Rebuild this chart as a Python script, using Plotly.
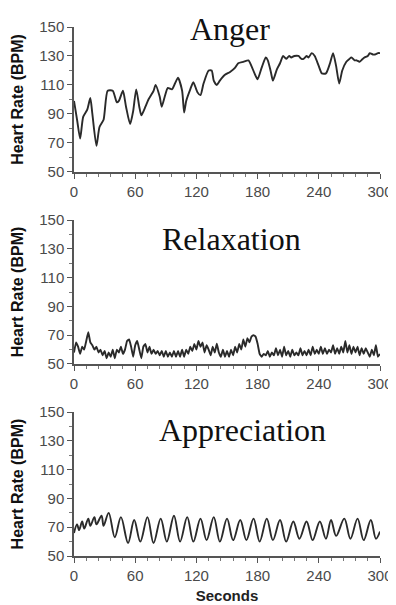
import plotly.graph_objects as go

# ---------------- data ----------------
anger_t = [0,3,6,9,13,16,18,22,25,29,33,38,42,44,48,51,55,58,61,64,66,70,73,78,80,84,86,89,92,96,
           99,102,106,108,110,114,117,121,124,127,132,135,137,140,143,148,153,158,161,166,171,174,177,180,184,188,190,193,195,199,
           202,205,208,211,213,216,220,223,225,228,230,233,236,240,243,247,251,254,257,260,263,267,270,272,275,277,280,283,285,288,
           290,293,295,298,300]
anger_v = [99,86,73,88,93,101,90,68,81,86,106,106,98,99,106,95,83,92,107,95,89,95,100,106,110,102,95,102,108,107,
           111,115,106,91,99,107,112,105,103,111,120,120,113,110,113,117,119,122,125,126,127,123,118,114,122,129,127,119,113,121,
           125,130,128,130,129,130,130,128,128,130,129,132,130,123,118,118,125,132,123,111,120,126,128,129,127,127,126,128,129,130,
           132,131,131,132,132]

relax_t = list(range(0, 301, 2))
relax_v = [58,65,62,57,62,60,66,72,65,63,60,62,58,60,56,59,54,58,55,60,
           54,60,58,62,57,60,66,67,62,55,63,66,60,54,62,64,58,62,57,60,
           57,59,56,59,55,59,55,58,55,59,55,59,55,60,55,60,57,62,59,64,
           60,66,62,65,58,63,60,56,62,58,64,58,55,60,55,59,55,60,56,62,
           58,64,60,67,62,68,65,69,70,69,64,57,55,57,56,59,55,58,56,61,
           56,60,55,62,56,59,55,60,56,58,56,61,56,59,56,60,56,62,57,60,
           57,62,57,61,57,60,58,63,57,61,57,62,58,66,58,63,57,62,58,62,
           56,61,57,61,58,55,60,56,63,55,57]

appr_t = [0,3,5,8,10,14,16,20,22,27,29,34,40,46,53,59,65,72,78,85,91,98,104,111,117,124,130,137,143,150,
          156,163,169,176,182,189,195,202,208,215,221,228,234,241,247,252,257,265,271,278,284,291,296,300]
appr_v = [66,72,68,74,69,76,71,77,72,78,71,80,63,77,59,75,60,77,59,76,60,78,60,77,60,76,61,77,60,76,
          61,75,61,76,60,76,61,75,60,74,62,74,61,74,62,75,64,76,62,76,61,75,62,67]

titles = ["Anger", "Relaxation", "Appreciation"]
y_ticks = [50, 70, 90, 110, 130, 150]
x_ticks = [0, 60, 120, 180, 240, 300]
y_label = "Heart Rate (BPM)"
x_label = "Seconds"

series = [(anger_t, anger_v), (relax_t, relax_v), (appr_t, appr_v)]

# ---------------- figure ----------------
fig = go.Figure()
domains = [[0.726, 1.0], [0.363, 0.635], [0.0, 0.272]]
title_pos = [(0.51, 0.985), (0.516, 0.87), (0.552, 0.875)]
smooth = [0.6, 0.3, 1.0]

axis_color = "#555555"
tick_font = dict(family="Liberation Sans, Arial, sans-serif", size=15, color="#4a4a4a")

for i, (t, v) in enumerate(series):
    n = "" if i == 0 else str(i + 1)
    fig.add_trace(go.Scatter(
        x=t, y=v, mode="lines", xaxis="x" + n, yaxis="y" + n,
        line=dict(color="#2a2a2a", width=1.9, shape="spline", smoothing=smooth[i]),
        showlegend=False, hoverinfo="skip"))
    xa = dict(domain=[0, 1], anchor="y" + n, range=[0, 300], tickvals=x_ticks, automargin=False,
              showgrid=False, zeroline=False, showline=True, linecolor=axis_color, linewidth=1.5,
              ticks="outside", ticklen=5, tickwidth=1.2, tickcolor=axis_color, tickfont=tick_font,
              minor=dict(dtick=12, tick0=0, ticks="outside", ticklen=3, tickwidth=1, tickcolor="#777777",
                         showgrid=False))
    ya = dict(domain=domains[i], anchor="x" + n, range=[50, 150], tickvals=y_ticks, automargin=False,
              showgrid=False, zeroline=False, showline=True, linecolor=axis_color, linewidth=1.5,
              ticks="outside", ticklen=5, tickwidth=1.2, tickcolor=axis_color, tickfont=tick_font,
              minor=dict(dtick=10, tick0=50, ticks="outside", ticklen=3, tickwidth=1, tickcolor="#777777",
                         showgrid=False),
              title=dict(text="<b>" + y_label + "</b>", standoff=12,
                         font=dict(family="Liberation Sans, Arial, sans-serif", size=16, color="#111111")))
    if i == 2:
        xa["title"] = dict(text="<b>" + x_label + "</b>", standoff=8,
                           font=dict(family="Liberation Sans, Arial, sans-serif", size=15, color="#222222"))
    fig.layout["xaxis" + n] = xa
    fig.layout["yaxis" + n] = ya
    fig.add_annotation(text=titles[i], xref="x" + n + " domain", yref="y" + n + " domain",
                       x=title_pos[i][0], y=title_pos[i][1], xanchor="center", yanchor="middle",
                       showarrow=False,
                       font=dict(family="Liberation Serif, Times New Roman, serif", size=32, color="#111111"))

# page body has an 8px margin: size the figure so the plot lands where the reference has it
fig.update_layout(width=388, height=597, margin=dict(l=66, r=16, t=19, b=49),
                  plot_bgcolor="white", paper_bgcolor="white")

fig.write_html("out.html")
